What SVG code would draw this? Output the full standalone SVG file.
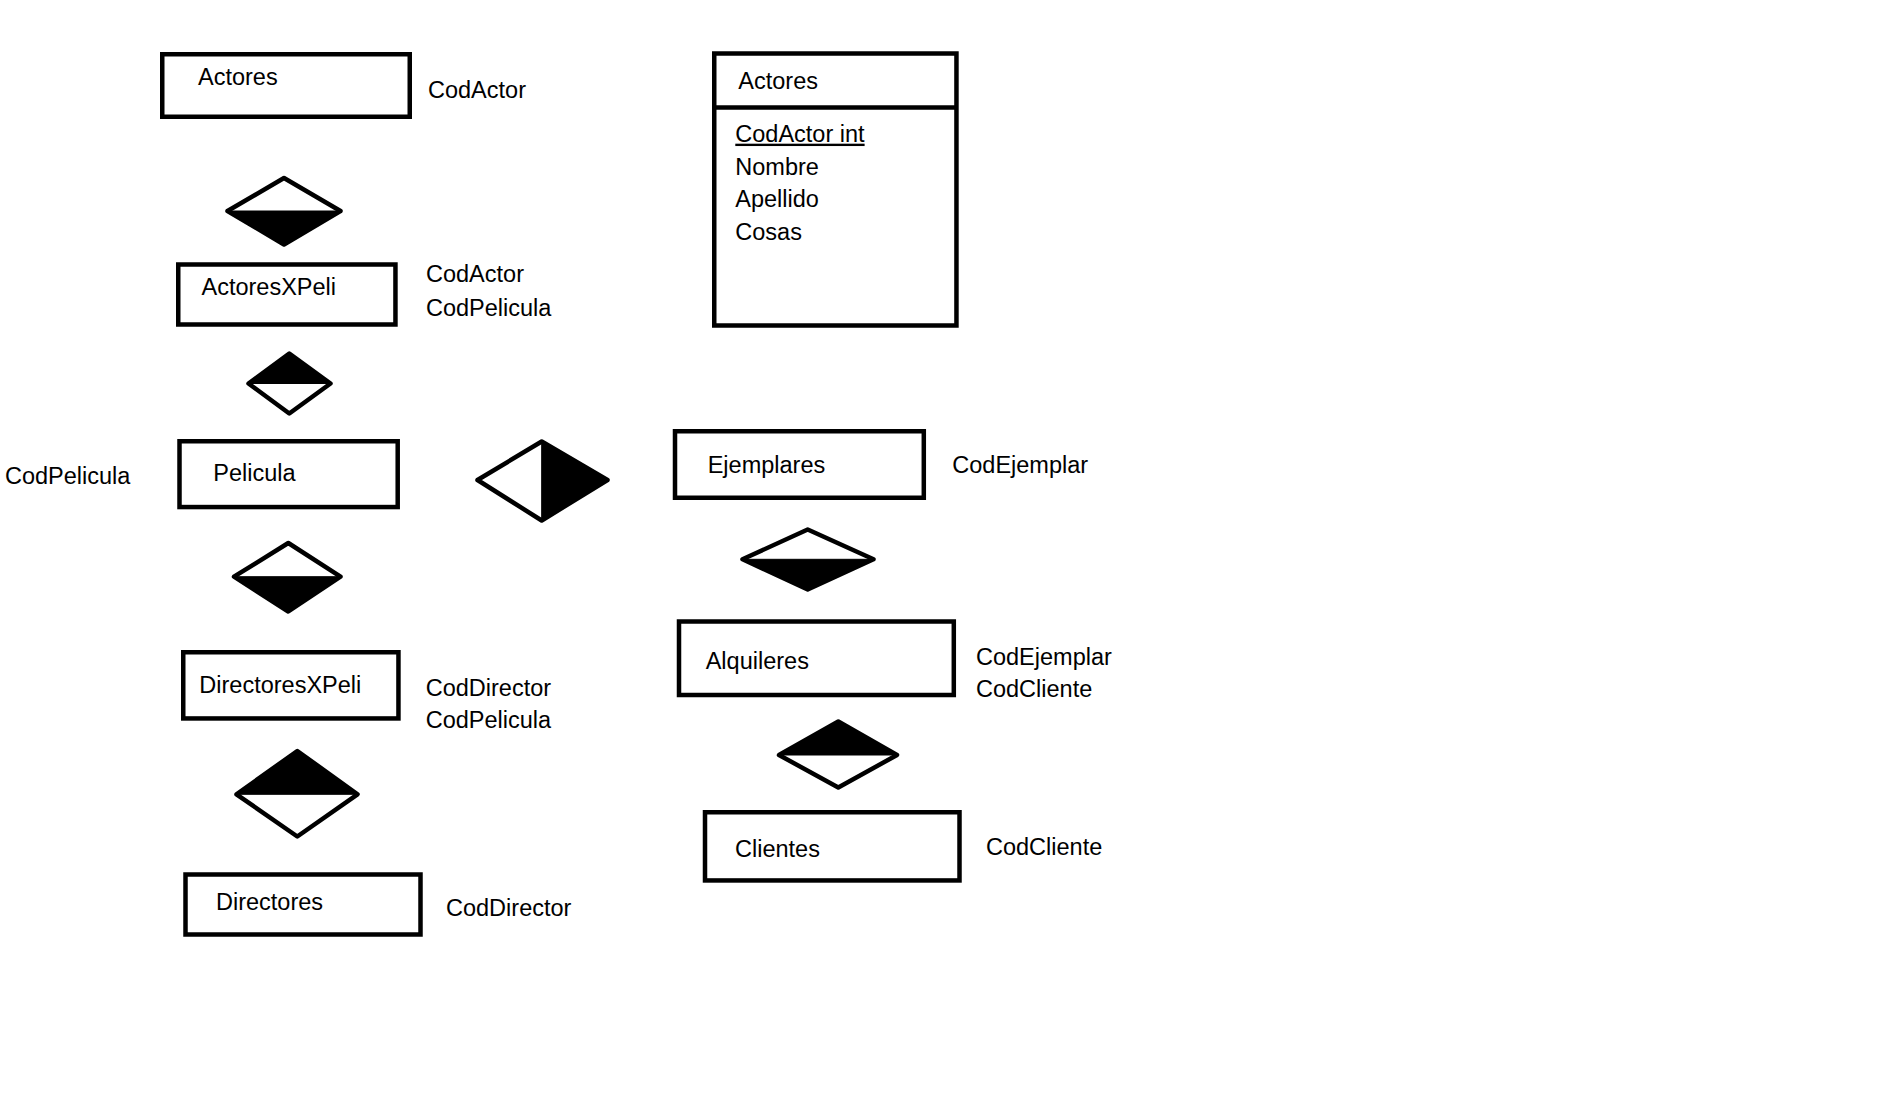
<svg xmlns="http://www.w3.org/2000/svg" width="1904" height="1104" viewBox="0 0 1904 1104">
<style>
.box{fill:#fff;stroke:#000;stroke-width:4.5}
.dia{fill:#fff;stroke:#000;stroke-width:4.5;stroke-linejoin:round}
.half{fill:#000;stroke:#000;stroke-width:1}
text{font-family:"Liberation Sans",Arial,sans-serif;font-size:23.5px;fill:#000}
</style>
<rect width="1904" height="1104" fill="#fff"/>
<g id="connectors"></g>

<g id="actores">
<rect class="box" x="162.25" y="54.25" width="247.5" height="62.5"/>
<text x="198" y="85">Actores</text>
<text x="428" y="98">CodActor</text>
</g>

<g id="rel-actores-actoresxpeli">
<polygon class="dia" points="227.5,211 284,178 340.5,211 284,244.5"/>
<polygon class="half" points="227.5,211 340.5,211 284,244.5"/>
</g>

<g id="actoresxpeli">
<rect class="box" x="178.25" y="264.5" width="217.2" height="60"/>
<text x="201.5" y="295">ActoresXPeli</text>
<text x="426" y="282">CodActor</text>
<text x="426" y="315.5">CodPelicula</text>
</g>

<g id="rel-actoresxpeli-pelicula">
<polygon class="dia" points="248.5,383.5 289.3,353.5 330.5,383.5 289.3,413.5"/>
<polygon class="half" points="248.5,383.5 289.3,353.5 330.5,383.5"/>
</g>

<g id="pelicula">
<rect class="box" x="179.5" y="441.25" width="218.2" height="65.8"/>
<text x="213.3" y="480.5">Pelicula</text>
<text x="5" y="483.5">CodPelicula</text>
</g>

<g id="rel-pelicula-ejemplares">
<polygon class="dia" points="477.5,480 541.7,441.5 607.5,480 541.7,520.5"/>
<polygon class="half" points="541.7,441.5 607.5,480 541.7,520.5"/>
</g>

<g id="rel-pelicula-directoresxpeli">
<polygon class="dia" points="234,576.7 288.3,543 340.5,576.7 288.3,611.5"/>
<polygon class="half" points="234,576.7 340.5,576.7 288.3,611.5"/>
</g>

<g id="directoresxpeli">
<rect class="box" x="183.25" y="652.25" width="215.2" height="66.2"/>
<text x="199.3" y="692.5">DirectoresXPeli</text>
<text x="425.7" y="695.5">CodDirector</text>
<text x="425.7" y="728.3">CodPelicula</text>
</g>

<g id="rel-directoresxpeli-directores">
<polygon class="dia" points="236.5,794.3 297.3,751 357.5,794.3 297.3,836.5"/>
<polygon class="half" points="236.5,794.3 297.3,751 357.5,794.3"/>
</g>

<g id="directores">
<rect class="box" x="185.5" y="874.5" width="235" height="60"/>
<text x="216" y="910">Directores</text>
<text x="446" y="915.5">CodDirector</text>
</g>

<g id="actores-tabla">
<rect class="box" x="714.25" y="53.5" width="242.2" height="272"/>
<line x1="714" y1="107.5" x2="958" y2="107.5" stroke="#000" stroke-width="4.5"/>
<text x="738.3" y="89">Actores</text>
<text x="735.3" y="141.7" text-decoration="underline">CodActor int</text>
<text x="735.3" y="175">Nombre</text>
<text x="735.3" y="206.7">Apellido</text>
<text x="735.3" y="240">Cosas</text>
</g>

<g id="ejemplares">
<rect class="box" x="675" y="431.25" width="248.8" height="66.5"/>
<text x="707.7" y="472.5">Ejemplares</text>
<text x="952.3" y="472.5">CodEjemplar</text>
</g>

<g id="rel-ejemplares-alquileres">
<polygon class="dia" points="742.5,559.3 807.7,529.5 873.5,559.3 807.7,589.5"/>
<polygon class="half" points="742.5,559.3 873.5,559.3 807.7,589.5"/>
</g>

<g id="alquileres">
<rect class="box" x="679" y="621.5" width="274.8" height="73.5"/>
<text x="705.7" y="669.3">Alquileres</text>
<text x="976" y="665">CodEjemplar</text>
<text x="976" y="697.3">CodCliente</text>
</g>

<g id="rel-alquileres-clientes">
<polygon class="dia" points="779,755 838.3,721.5 897,755 838.3,787.5"/>
<polygon class="half" points="779,755 838.3,721.5 897,755"/>
</g>

<g id="clientes">
<rect class="box" x="705" y="812.25" width="254.5" height="68.2"/>
<text x="735" y="856.7">Clientes</text>
<text x="986" y="855">CodCliente</text>
</g>
</svg>
